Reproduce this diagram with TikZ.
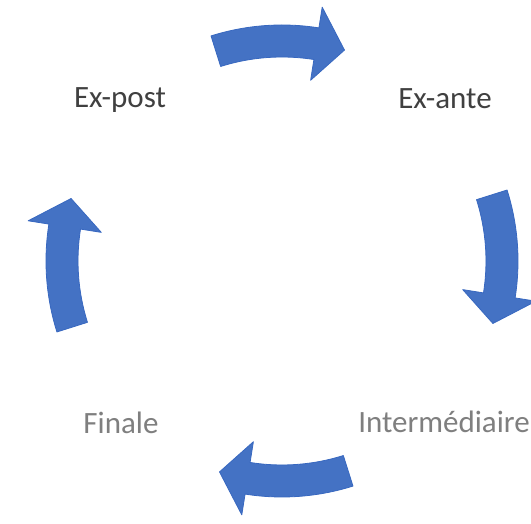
\documentclass[tikz,border=0pt]{standalone}
\usepackage{fontspec}
\setmainfont{Carlito}
\usetikzlibrary{calc}
\definecolor{arrblue}{HTML}{4472C4}
\definecolor{arredge}{HTML}{3868C0}
\definecolor{txtdark}{HTML}{404040}
\definecolor{txtlight}{HTML}{7F7F7F}
\tikzset{
  arr/.style={fill=arrblue, draw=arredge, line width=0.8pt, line join=round},
  lbl/.style={font=\fontsize{31}{37}\selectfont, anchor=base, inner sep=0pt}
}
\newcommand\cycarrow[3]{%
  \filldraw[arr] ($(c)+(#1:\rin)$) arc[start angle=#1, end angle=#2, radius=\rin]
    -- ($(c)+(#2:\hin)$) -- ($(c)+(#3:\rmid)$) -- ($(c)+(#2:\hout)$)
    -- ($(c)+(#2:\rout)$) arc[start angle=#2, end angle=#1, radius=\rout] -- cycle;}
\begin{document}
\begin{tikzpicture}[x=1pt,y=1pt]
\useasboundingbox (0,0) rectangle (531,524);
\fill[white] (0,0) rectangle (531,524);
\coordinate (c) at (282,263);
\def\rin{204}\def\rout{236}\def\hin{183}\def\hout{257}\def\rmid{220}
\cycarrow{107.5}{81}{73.5}
\cycarrow{17.5}{-9}{-16.5}
\cycarrow{-72.5}{-99}{-106.5}
\cycarrow{197.5}{171}{163.5}
\node[lbl, text=txtdark] (expost) at (120,416) {Ex-post};
\node[lbl, text=txtdark] (exante) at (445,415) {Ex-ante};
\node[lbl, text=txtlight] (finale) at (121,90) {Finale};
\node[lbl, text=txtlight] (inter) at (444,91) {Intermédiaire};
\end{tikzpicture}
\end{document}
